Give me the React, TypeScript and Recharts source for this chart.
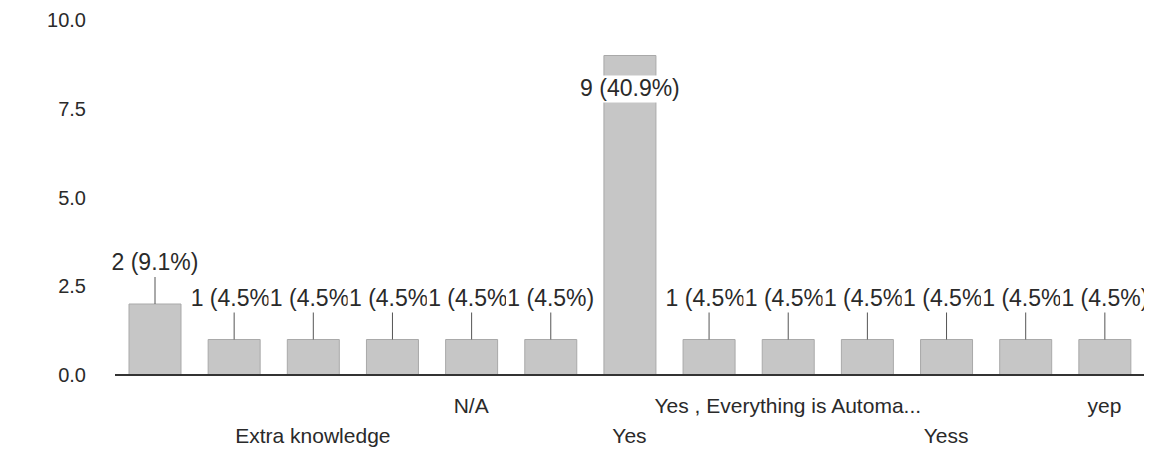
import React from "react";
import { BarChart, Bar, XAxis, YAxis, LabelList } from "recharts";

const categories = [
  "",
  "",
  "Extra knowledge",
  "",
  "N/A",
  "",
  "Yes",
  "",
  "Yes , Everything is Automa...",
  "",
  "Yess",
  "",
  "yep",
];
const counts = [2, 1, 1, 1, 1, 1, 9, 1, 1, 1, 1, 1, 1];
const yTicks = [0, 2.5, 5, 7.5, 10];

const total = counts.reduce((a, b) => a + b, 0);
const data = categories.map((c, i) => ({ idx: i, name: c, count: counts[i] }));

const FONT = "Arial, 'Liberation Sans', sans-serif";
const TEXT = "#2a2a2a";

const XTick = (props: any) => {
  const { x, y, payload } = props;
  const i = payload.value as number;
  const label = categories[i];
  if (!label) return null;
  const dy = i % 4 === 0 ? 30 : 60;
  return (
    <text x={x} y={y + dy} textAnchor="middle" fontFamily={FONT} fontSize={21} fill={TEXT}>
      {label}
    </text>
  );
};

const YTick = (props: any) => {
  const { y, payload } = props;
  return (
    <text x={78} y={y + 7} textAnchor="end" fontFamily={FONT} fontSize={20} fill={TEXT}>
      {Number(payload.value).toFixed(1)}
    </text>
  );
};

const BarLabel = (props: any) => {
  const { x, y, width, index } = props;
  const v = counts[index];
  const pct = ((v / total) * 100).toFixed(1);
  const text = `${v} (${pct}%)`;
  const cx = x + width / 2;
  const tw = text.length * 11.2;
  const inside = y - 40 < 40;
  const ty = inside ? y + 40 : y - 34;
  return (
    <g>
      {!inside && <line x1={cx} y1={y - 28} x2={cx} y2={y} stroke="#555" strokeWidth={1} />}
      <rect x={cx - tw / 2} y={ty - 20} width={tw} height={27} fill="#ffffff" />
      <text x={cx} y={ty} textAnchor="middle" fontFamily={FONT} fontSize={23} fill={TEXT}>
        {text}
      </text>
    </g>
  );
};

export default function App() {
  return (
    <div style={{ width: 1144, height: 441, background: "#fff" }}>
      <BarChart
        width={1144}
        height={441}
        data={data}
        margin={{ top: 12, right: 8, bottom: 0, left: 0 }}
        barSize={52}
      >
        <YAxis
          type="number"
          domain={[0, 10]}
          ticks={yTicks}
          width={107}
          axisLine={false}
          tickLine={false}
          tick={<YTick />}
        />
        <XAxis
          dataKey="idx"
          type="category"
          height={74}
          interval={0}
          tickLine={false}
          axisLine={{ stroke: "#333", strokeWidth: 2 }}
          tick={<XTick />}
        />
        <Bar dataKey="count" fill="#c6c6c6" stroke="#a9a9a9" strokeWidth={1} isAnimationActive={false}>
          <LabelList dataKey="count" content={<BarLabel />} />
        </Bar>
      </BarChart>
    </div>
  );
}
